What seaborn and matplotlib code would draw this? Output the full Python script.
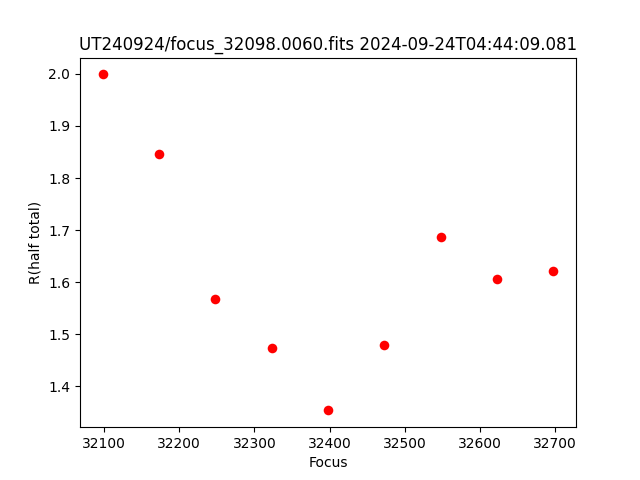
import matplotlib
matplotlib.use("Agg")
import matplotlib.pyplot as plt
import seaborn as sns
import pandas as pd

focus = [32098, 32173, 32248, 32323, 32398, 32473, 32548, 32623, 32698]
r_half = [1.999, 1.846, 1.567, 1.473, 1.354, 1.479, 1.687, 1.606, 1.621]
title = "UT240924/focus_32098.0060.fits 2024-09-24T04:44:09.081"

df = pd.DataFrame({"Focus": focus, "R(half total)": r_half})

fig, ax = plt.subplots(figsize=(6.4, 4.8), dpi=100)
sns.scatterplot(data=df, x="Focus", y="R(half total)", color="red", s=48,
                linewidth=0, ax=ax)
ax.set_title(title)
ax.set_xlabel("Focus")
ax.set_ylabel("R(half total)")
fig.savefig("out.png", dpi=100)
